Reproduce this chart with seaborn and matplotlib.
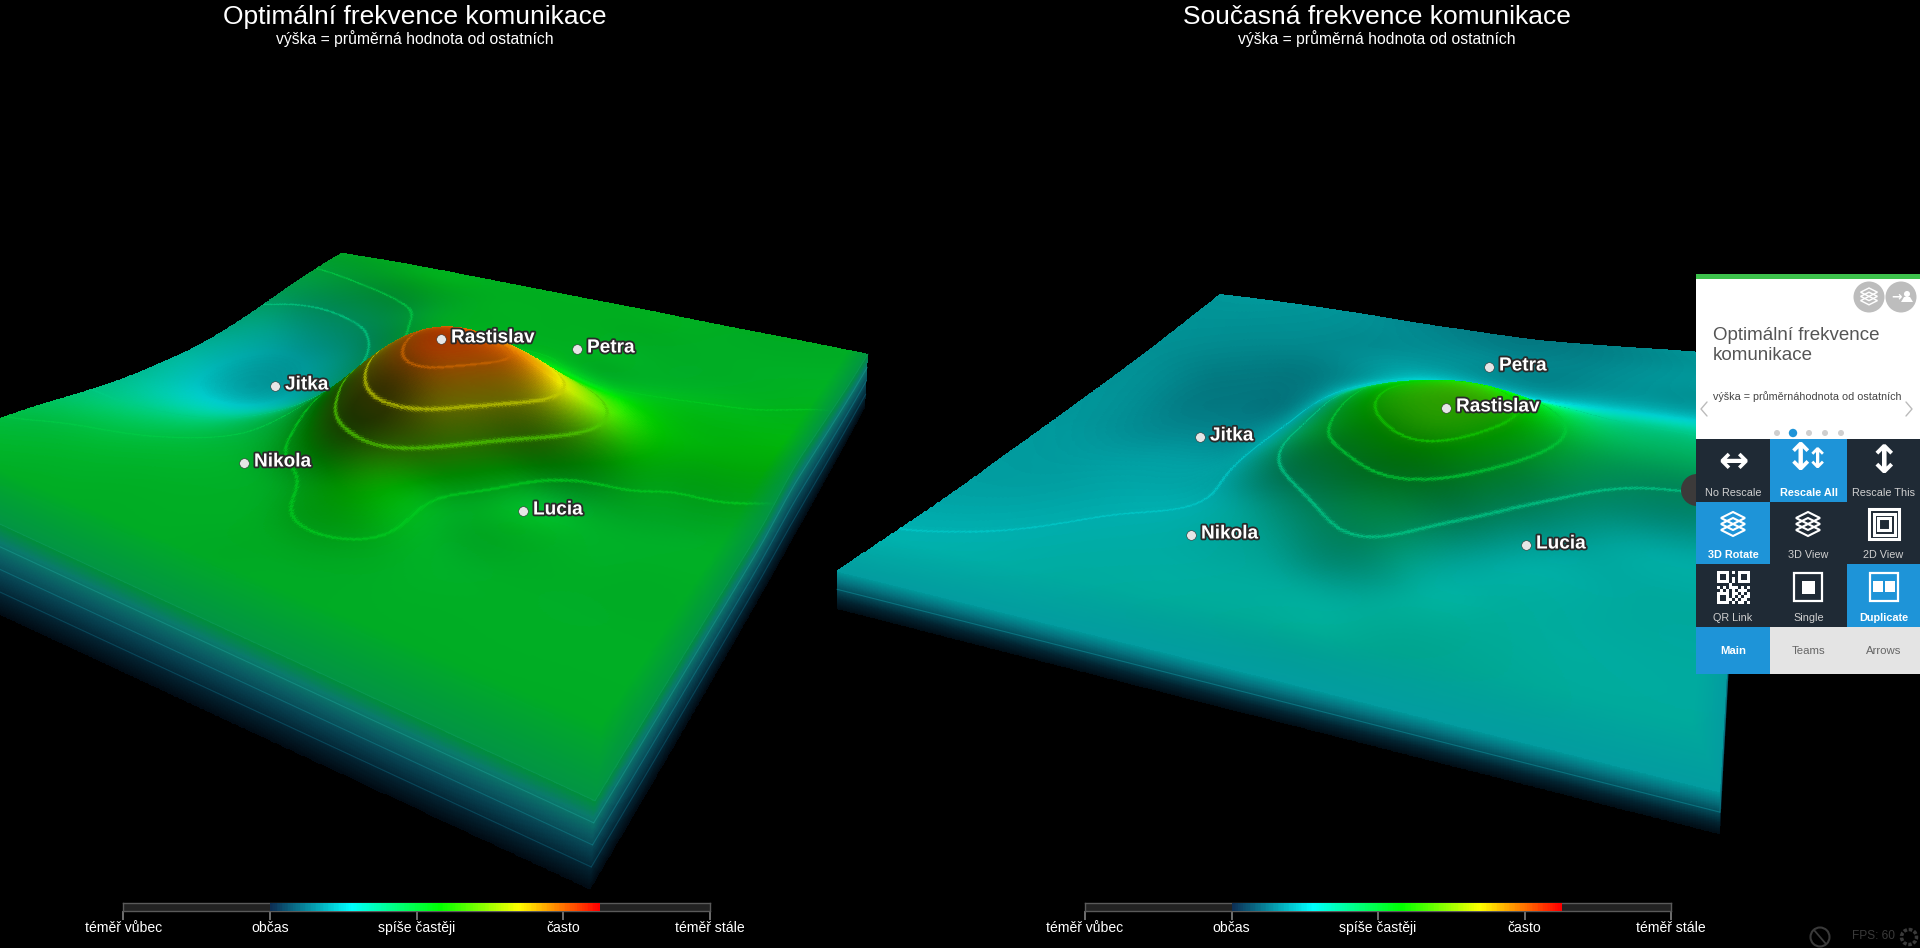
import numpy as np
import matplotlib
matplotlib.use("Agg")
import matplotlib.pyplot as plt
import matplotlib.tri as mtri
from matplotlib.colors import LinearSegmentedColormap, to_rgb
from matplotlib.patches import Rectangle, Circle, Polygon
import matplotlib.patheffects as pe
import seaborn as sns

# ---------- data ----------
titles = ["Optimální frekvence komunikace", "Současná frekvence komunikace"]
subtitle = "výška = průměrná hodnota od ostatních"
legend_labels = ["téměř vůbec", "občas", "spíše častěji", "často", "téměř stále"]
legend_ticks = [1, 2, 3, 4, 5]

people = ["Rastislav", "Petra", "Jitka", "Nikola", "Lucia"]
left_px = [441, 577, 275, 244, 523]
left_py = [339, 349, 386, 463, 511]
right_px = [1446, 1489, 1200, 1191, 1526]
right_py = [408, 367, 437, 535, 545]

# Surface samples: rows run from the back edge to the front edge, columns left to right
optimal_surface = [
    [2.95, 2.97, 2.98, 2.98, 2.98, 2.98, 2.98, 2.98, 2.98, 2.97, 2.97, 2.97, 2.96],
    [2.88, 2.90, 2.94, 2.98, 2.98, 2.98, 2.98, 2.98, 2.98, 2.97, 2.96, 2.96, 2.96],
    [2.80, 2.78, 2.80, 2.86, 2.94, 2.98, 2.98, 2.98, 2.97, 2.96, 2.96, 2.97, 2.98],
    [2.70, 2.62, 2.64, 2.72, 2.90, 2.98, 2.99, 2.99, 2.97, 2.96, 2.97, 2.99, 3.01],
    [2.62, 2.52, 2.50, 2.58, 2.80, 3.07, 3.22, 3.25, 3.08, 3.03, 3.03, 3.03, 3.04],
    [2.58, 2.47, 2.42, 2.50, 2.72, 3.28, 3.82, 3.86, 3.65, 3.30, 3.08, 3.06, 3.06],
    [2.60, 2.48, 2.42, 2.48, 2.74, 3.42, 3.95, 3.97, 3.82, 3.38, 3.08, 3.03, 2.99],
    [2.64, 2.58, 2.56, 2.62, 2.82, 3.20, 3.75, 3.80, 3.35, 2.99, 2.97, 2.96, 2.96],
    [2.72, 2.72, 2.74, 2.79, 2.88, 3.00, 3.25, 3.28, 3.00, 2.97, 2.96, 2.96, 2.96],
    [2.82, 2.85, 2.87, 2.90, 2.93, 2.95, 3.00, 3.10, 2.98, 2.96, 2.96, 2.96, 2.96],
    [2.90, 2.92, 2.94, 2.95, 2.96, 2.96, 2.97, 2.99, 2.97, 2.96, 2.96, 2.96, 2.96],
    [2.95, 2.96, 2.96, 2.96, 2.96, 2.96, 2.96, 2.96, 2.96, 2.96, 2.96, 2.96, 2.96],
    [2.95, 2.95, 2.95, 2.95, 2.95, 2.95, 2.95, 2.95, 2.95, 2.95, 2.95, 2.95, 2.95],
]
current_surface = [
    [2.50, 2.50, 2.49, 2.47, 2.44, 2.40, 2.38, 2.36, 2.36, 2.40, 2.45, 2.50, 2.52],
    [2.48, 2.48, 2.47, 2.46, 2.44, 2.42, 2.40, 2.38, 2.38, 2.40, 2.44, 2.48, 2.50],
    [2.47, 2.46, 2.45, 2.44, 2.43, 2.44, 2.44, 2.42, 2.40, 2.42, 2.46, 2.48, 2.50],
    [2.46, 2.44, 2.42, 2.40, 2.42, 2.48, 2.52, 2.50, 2.46, 2.48, 2.50, 2.50, 2.52],
    [2.46, 2.42, 2.38, 2.36, 2.40, 2.58, 2.78, 2.88, 2.82, 2.74, 2.70, 2.70, 2.68],
    [2.46, 2.42, 2.36, 2.35, 2.42, 2.80, 3.12, 3.26, 3.25, 3.02, 2.85, 2.82, 2.80],
    [2.47, 2.43, 2.38, 2.38, 2.48, 2.85, 3.20, 3.30, 3.27, 3.05, 2.85, 2.80, 2.76],
    [2.48, 2.45, 2.43, 2.44, 2.53, 2.85, 3.08, 3.22, 3.12, 2.86, 2.68, 2.62, 2.60],
    [2.49, 2.48, 2.49, 2.50, 2.54, 2.68, 2.85, 2.96, 2.82, 2.62, 2.58, 2.58, 2.58],
    [2.50, 2.50, 2.52, 2.54, 2.56, 2.60, 2.68, 2.76, 2.62, 2.59, 2.59, 2.59, 2.59],
    [2.52, 2.53, 2.55, 2.57, 2.58, 2.59, 2.60, 2.61, 2.62, 2.62, 2.60, 2.59, 2.59],
    [2.56, 2.57, 2.58, 2.59, 2.60, 2.61, 2.62, 2.63, 2.63, 2.62, 2.61, 2.60, 2.60],
    [2.60, 2.60, 2.60, 2.60, 2.60, 2.60, 2.60, 2.60, 2.60, 2.60, 2.60, 2.60, 2.60],
]
optimal_levels = [2.70, 2.88, 3.00, 3.30, 3.60, 3.90]
current_levels = [2.55, 2.75, 3.00, 3.20]

# Colour scale of the legend
scale_values = [2.0, 2.55, 3.16, 3.70, 4.25]
scale_colors = ["#0d2f55", "#00ffff", "#00ff00", "#ffff00", "#ff0000"]

# ---------- theme ----------
sns.set_theme(style="dark")
plt.rcParams["font.family"] = ["Liberation Sans", "DejaVu Sans"]
plt.rcParams["axes.facecolor"] = "black"
plt.rcParams["figure.facecolor"] = "black"

W, H = 1920, 948
fig = plt.figure(figsize=(W / 100, H / 100), dpi=100, facecolor="black")
ax = fig.add_axes([0, 0, 1, 1])
ax.set_facecolor("black")

vmin, vmax = scale_values[0], scale_values[-1]
cmap = LinearSegmentedColormap.from_list(
    "freq", [((v - vmin) / (vmax - vmin), c) for v, c in zip(scale_values, scale_colors)])


def homography(L, F, B, R):
    L, F, B, R = map(np.asarray, (L, F, B, R))
    dx1, dx2 = F - R, B - R
    s = L - F + R - B
    g, h = np.linalg.solve(np.array([dx1, dx2]).T, s)
    a, d = F * (g + 1) - L
    b, e = B * (h + 1) - L
    c, f = L

    def project(u, v):
        w = g * u + h * v + 1
        return (a * u + b * v + c) / w, (d * u + e * v + f) / w
    return project


def soften(z, sigma):
    r = int(3 * sigma)
    kernel = np.exp(-0.5 * (np.arange(-r, r + 1) / sigma) ** 2)
    kernel /= kernel.sum()
    out = np.pad(z, r, mode="edge")
    out = np.apply_along_axis(lambda a: np.convolve(a, kernel, mode="same"), 0, out)
    out = np.apply_along_axis(lambda a: np.convolve(a, kernel, mode="same"), 1, out)
    return out[r:-r, r:-r]


def draw_terrain(samples, levels, corners, scales, base, depth, lean, view_dir,
                 light, side_colors, side_lines, color_shift, edge_color):
    samples = np.asarray(samples, float)
    nr, nc = samples.shape
    uu, vv = np.meshgrid(np.linspace(0, 1, nc), np.linspace(1, 0, nr))
    tri = mtri.Triangulation(uu.ravel(), vv.ravel())
    interp = mtri.CubicTriInterpolator(tri, samples.ravel(), kind="min_E")
    n = 440
    us = np.linspace(0, 1, n)
    vs = np.linspace(1 - 1e-9, 1e-9, n)
    us[0], us[-1] = 1e-9, 1 - 1e-9
    U, Vv = np.meshgrid(us, vs)
    Z = soften(np.ma.filled(interp(U, Vv), base), 9.0)

    project = homography(*corners)
    sL, sF, sB, sR = scales
    scale = (sL * (1 - U) * (1 - Vv) + sF * U * (1 - Vv) + sB * (1 - U) * Vv + sR * U * Vv)
    gx, gy = project(U, Vv)
    K = 90.0
    X, Y = gx, gy - K * (Z - base) * scale

    dz_dv, dz_du = np.gradient(Z, vs, us)
    facing = view_dir[0] * dz_du - view_dir[1] * dz_dv
    bright = np.clip(light[0] + light[1] * facing, light[2], light[3])
    rgb = cmap(np.clip((Z + color_shift - vmin) / (vmax - vmin), 0, 1))[..., :3] * bright[..., None]

    gmag = np.maximum(np.hypot(dz_du, dz_dv), 0.3)
    for lev in levels:
        dist = np.abs(Z - lev) / gmag
        a = np.exp(-(dist / 0.0024) ** 2)[..., None]
        line_col = np.array(cmap((lev + color_shift - vmin) / (vmax - vmin))[:3]) * 0.8
        rgb = rgb * (1 - 0.75 * a) + line_col * 0.75 * a

    fade = np.clip(np.minimum(Vv / 0.08, (1 - U) / 0.03), 0, 1)[..., None]
    rgb = rgb * fade + np.array(to_rgb(edge_color)) * (1 - fade)
    rgb = np.clip(rgb, 0, 1)

    side_cmap = LinearSegmentedColormap.from_list("side", side_colors)
    ts = np.linspace(0, 1, 70)
    edges = [(X[-1, :], Y[-1, :], gx[-1, :], gy[-1, :], scale[-1, :]),
             (X[:, -1], Y[:, -1], gx[:, -1], gy[:, -1], scale[:, -1])]
    for ex, ey, bx, by, sc in edges:
        xb = bx + lean * sc
        yb = by + depth * sc
        xs = np.outer(1 - ts, ex) + np.outer(ts, xb)
        ys = np.outer(1 - ts, ey) + np.outer(ts, yb)
        ax.pcolormesh(xs, ys, np.tile(ts[:-1, None], (1, len(ex) - 1)), cmap=side_cmap,
                      vmin=0, vmax=1, shading="flat", antialiased=False)

    ax.pcolormesh(X, Y, rgb[:-1, :-1], shading="flat", antialiased=False)

    for ex, ey, bx, by, sc in edges:
        xb = bx + lean * sc
        yb = by + depth * sc
        for t, col, al in side_lines:
            ax.plot(ex * (1 - t) + xb * t, ey * (1 - t) + yb * t, color=col, lw=0.8, alpha=al)


draw_terrain(optimal_surface, optimal_levels,
             corners=[(-119, 468), (595, 800), (342, 252), (868, 354)],
             scales=[1.0, 1.0, 0.55, 0.6], base=2.96, depth=89, lean=-5,
             view_dir=(-0.3, 1.0), light=(0.68, 0.07, 0.2, 0.92),
             side_colors=["#008e3a", "#0a7a6c", "#0a5a62", "#063c4c", "#03202e", "#010a12"],
             side_lines=[(0.0, "#109a60", 0.5), (0.25, "#18988c", 0.6),
                         (0.5, "#107c88", 0.6), (0.75, "#0b5a70", 0.6)],
             color_shift=0.07, edge_color="#029444")
draw_terrain(current_surface, current_levels,
             corners=[(837, 571), (1720, 792), (1220, 289), (1745, 352)],
             scales=[0.9, 1.0, 0.55, 0.6], base=2.6, depth=42, lean=0,
             view_dir=(-0.25, 1.0), light=(0.66, 0.07, 0.2, 1.0),
             side_colors=["#00989a", "#05727e", "#034a58", "#022330", "#010c14"],
             side_lines=[(0.48, "#0e8a96", 0.6)],
             color_shift=0.0, edge_color="#039ca0")

# ---------- people ----------
for xs, ys in ((left_px, left_py), (right_px, right_py)):
    sns.scatterplot(x=xs, y=ys, ax=ax, s=48, color="#e6e6e6", edgecolor="#333333",
                    linewidth=0.4, legend=False, zorder=6)
    for name, x, y in zip(people, xs, ys):
        ax.text(x + 10, y - 1, name, color="white", fontsize=13.7, fontweight="bold",
                va="center", ha="left", zorder=7,
                path_effects=[pe.withStroke(linewidth=2.6, foreground="#2a2a2a")])

# ---------- titles ----------
for cx, title in zip((415, 1377), titles):
    ax.text(cx, 17, title, color="white", fontsize=19.0, ha="center", va="center")
    ax.text(cx, 39, subtitle, color="white", fontsize=11.3, ha="center", va="center")

# ---------- legends ----------
scale_grid = np.linspace(vmin, vmax, 200)[None, :]
for x0 in (123.5, 1085.0):
    bar = fig.add_axes([x0 / W, 1 - 911 / H, 586 / W, 8 / H])
    bar.set_xlim(1, 5)
    bar.set_ylim(0, 1)
    bar.set_facecolor("#222222")
    for sp in bar.spines.values():
        sp.set_color("#5a5a5a")
        sp.set_linewidth(1.0)
    bar.set_yticks([])
    bar.set_xticks(legend_ticks, legend_labels, color="white", fontsize=10.1)
    bar.tick_params(axis="x", length=6.5, width=1.3, color="#777777", pad=0.8, bottom=True)
    heat = fig.add_axes([(x0 + 146.5) / W, 1 - 911 / H, 330 / W, 8 / H])
    sns.heatmap(scale_grid, ax=heat, cmap=cmap, vmin=vmin, vmax=vmax, cbar=False,
                xticklabels=False, yticklabels=False)
    heat.set_axis_off()

# ---------- side panel ----------
DARK, BLUE, LIGHT = "#1f2a35", "#1e94d8", "#e4e4e4"


def rect(x0, y0, x1, y1, fc, ec="none", lw=0, z=8):
    ax.add_patch(Rectangle((x0, y0), x1 - x0, y1 - y0, fc=fc, ec=ec, lw=lw, zorder=z))


ax.add_patch(Circle((1697, 490), 16, fc="#3c3a3a", ec="none", zorder=7.5))
rect(1696, 274, 1920, 439, "white")
rect(1696, 274, 1920, 279, "#3dc24c")
ax.add_patch(Circle((1869, 297), 15.5, fc="#bdbdbd", ec="none", zorder=9))
ax.add_patch(Circle((1901, 297), 15.5, fc="#bdbdbd", ec="none", zorder=9))
ax.text(1897, 297, "→", color="white", fontsize=9, fontweight="bold", ha="center",
        va="center", zorder=10, family=["DejaVu Sans"])
ax.add_patch(Circle((1907, 294), 3, fc="white", ec="none", zorder=10))
ax.add_patch(Polygon([(1901, 302), (1913, 302), (1910, 297), (1904, 297)], fc="white", ec="none", zorder=10))
ax.text(1713, 335, "Optimální frekvence", color="#555555", fontsize=13.5, va="center", zorder=9)
ax.text(1713, 355, "komunikace", color="#555555", fontsize=13.5, va="center", zorder=9)
ax.text(1713, 397, "výška = průměrnáhodnota od ostatních", color="#444444", fontsize=7.75,
        va="center", zorder=9)
for x, c, r in zip((1777, 1793, 1809, 1825, 1841),
                   ("#cfcfcf", "#1e94d8", "#cfcfcf", "#cfcfcf", "#cfcfcf"), (3, 4.2, 3, 3, 3)):
    ax.add_patch(Circle((x, 433), r, fc=c, ec="none", zorder=9))
ax.plot([1707, 1701, 1707], [402, 409, 416], color="#bbbbbb", lw=1, zorder=9)
ax.plot([1906, 1912, 1906], [402, 409, 416], color="#bbbbbb", lw=1, zorder=9)

cols = [(1696, 1770), (1770, 1847), (1847, 1920)]
rows = [(439, 502), (502, 564), (564, 627)]
btn_labels = [["No Rescale", "Rescale All", "Rescale This"],
              ["3D Rotate", "3D View", "2D View"],
              ["QR Link", "Single", "Duplicate"]]
active = {(0, 1), (1, 0), (2, 2)}
for r, (y0, y1) in enumerate(rows):
    for c, (x0, x1) in enumerate(cols):
        on = (r, c) in active
        rect(x0, y0, x1, y1, BLUE if on else DARK)
        ax.text((x0 + x1) / 2, y1 - 9, btn_labels[r][c], color="white" if on else "#d0d0d0",
                fontsize=7.8, fontweight="bold" if on else "normal", ha="center", va="center", zorder=9)
rect(1696, 627, 1770, 674, BLUE)
rect(1770, 627, 1920, 674, LIGHT)
for x, t, col, fw in zip((1733, 1808, 1884), ("Main", "Teams", "Arrows"),
                         ("white", "#666666", "#666666"), ("bold", "normal", "normal")):
    ax.text(x, 651, t, color=col, fontsize=8.2, fontweight=fw, ha="center", va="center", zorder=9)

# button icons
icon = dict(color="white", ha="center", va="center", zorder=10, family=["DejaVu Sans"], fontweight="bold")
ax.text(1733, 462, "↔", fontsize=26, **icon)
ax.text(1800, 460, "↕", fontsize=27, **icon)
ax.text(1817, 460, "↕", fontsize=20, **icon)
ax.text(1884, 462, "↕", fontsize=28, **icon)


def layers(cx, cy, col="white", k=1.0):
    for i in (2, 1, 0):
        ax.add_patch(Polygon([(cx - 12 * k, cy + (-4 + i * 6) * k), (cx, cy + (-10 + i * 6) * k),
                              (cx + 12 * k, cy + (-4 + i * 6) * k), (cx, cy + (2 + i * 6) * k)],
                             closed=True, fc="none", ec=col, lw=1.5 * k, zorder=10))


layers(1733, 522)
layers(1808, 522)
layers(1869, 295, k=0.7)
for size in (15, 10.5, 6):
    rect(1884 - size, 524 - size, 1884 + size, 524 + size, "none", ec="white", lw=2.2, z=10)
rect(1794, 573, 1822, 601, "none", ec="white", lw=1.6, z=10)
rect(1802, 581, 1815, 594, "white", z=10)
rect(1870, 573, 1898, 601, "none", ec="white", lw=1.6, z=10)
rect(1873, 581, 1883, 592, "white", z=10)
rect(1885, 581, 1895, 592, "white", z=10)

qr_rows = ["11110101111", "10010001001", "10010101001", "11110101111", "00001000000",
           "10101110101", "01010101110", "11110110101", "10010101011", "10011010110", "11110101101"]
for j, row in enumerate(qr_rows):
    for i, ch in enumerate(row):
        if ch == "1":
            rect(1717 + i * 3, 571 + j * 3, 1720 + i * 3, 574 + j * 3, "white", z=10)

# ---------- status icons ----------
ax.text(1852, 936, "FPS: 60", color="#3a3a3a", fontsize=8.6, va="center", ha="left", zorder=9)
ax.add_patch(Circle((1820, 937), 9.5, fc="none", ec="#3a3a3a", lw=1.5, zorder=9))
ax.plot([1814, 1826], [930, 944], color="#3a3a3a", lw=1.3, zorder=9)
ax.add_patch(Circle((1909, 937), 7.5, fc="none", ec="#3a3a3a", lw=2.5, ls=(0, (1, 0.5)), zorder=9))

ax.set_xlim(0, W)
ax.set_ylim(H, 0)
ax.set_axis_off()
fig.savefig("out.png", dpi=100, facecolor="black")
